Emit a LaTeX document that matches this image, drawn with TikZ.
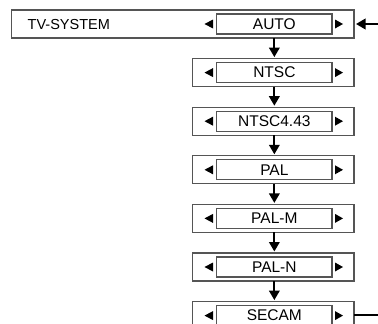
\documentclass[tikz,border=0pt]{standalone}
\usepackage{fontspec}
\setmainfont{Liberation Sans}
\usetikzlibrary{arrows.meta}
\definecolor{boxgray}{HTML}{555555}
\begin{document}
\begin{tikzpicture}[x=1pt,y=-1pt,
  outerbox/.style={draw=boxgray, line width=1.2pt, inner sep=0pt, outer sep=0pt, anchor=north west},
  innerbox/.style={draw=boxgray, line width=1.1pt, inner sep=0pt, outer sep=0pt, minimum width=115.3pt, minimum height=20pt, font=\fontsize{15.5}{15.5}\selectfont},
  lbl/.style={inner sep=0pt, anchor=west, font=\fontsize{14.5}{14.5}\selectfont},
  arr/.style={line width=2pt, -{Triangle[width=10.5pt,length=9.5pt]}},
  plain/.style={line width=2pt}]
\useasboundingbox (0,0) rectangle (378,324);
\clip (0,0) rectangle (378,324);
% top row
\node[outerbox, minimum width=342.5pt, minimum height=28pt] (o1) at (11.5,10) {};
\node[lbl] (tv) at (27.5,24.5) {TV-SYSTEM};
\node[innerbox] (i1) at (274.35,24) {AUTO};
\fill (204.5,24) -- (213,19.5) -- (213,28.5) -- cycle;
\fill (343,24) -- (335,19.5) -- (335,28.5) -- cycle;
% other rows
\foreach \k/\t in {2/NTSC,3/NTSC4.43,4/PAL,5/PAL-M,6/PAL-N,7/SECAM}{
  \pgfmathsetmacro{\top}{10+48.6*(\k-1)}
  \pgfmathsetmacro{\cy}{\top+14}
  \node[outerbox, minimum width=161.5pt, minimum height=28pt] (o\k) at (192.5,\top) {};
  \node[innerbox] (i\k) at (274.35,\cy) {\t};
  \fill (204.5,\cy) -- (213,\cy-4.5) -- (213,\cy+4.5) -- cycle;
  \fill (343,\cy) -- (335,\cy-4.5) -- (335,\cy+4.5) -- cycle;
}
\foreach \a/\b in {1/2,2/3,3/4,4/5,5/6,6/7}{
  \draw[arr] (i\a.center |- o\a.south) -- ([yshift=1.5pt]i\a.center |- o\b.north);
}
\coordinate (inR) at (378,24);
\coordinate (outR) at (378,314.5);
\draw[arr] (inR) -- ([xshift=2pt]o1.east);
\draw[plain] (o7.east |- outR) -- (outR);
\end{tikzpicture}
\end{document}
